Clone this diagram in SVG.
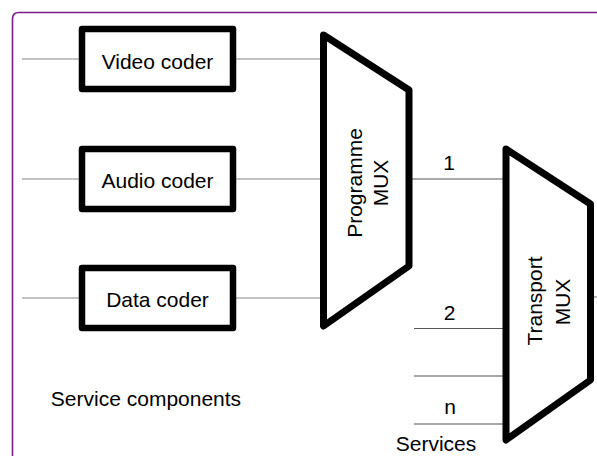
<svg xmlns="http://www.w3.org/2000/svg" width="597" height="456" viewBox="0 0 597 456">
<style>
text{font-family:"Liberation Sans",Arial,sans-serif;font-size:21px;fill:#000}
.box{fill:#fff;stroke:#000;stroke-width:6.5;stroke-linejoin:round}
.mux{fill:#fff;stroke:#000;stroke-width:7;stroke-linejoin:round}
.ln{stroke:#888;stroke-width:1.2;fill:none}
.ln2{stroke:#555;stroke-width:1.2;fill:none}
</style>
<rect width="597" height="456" fill="#fff"/>
<path d="M12.5,470 V19 Q12.5,12.5 19,12.5 H610" fill="none" stroke="#7a1d86" stroke-width="1.6"/>
<g id="connectors">
<line class="ln" x1="22" y1="59" x2="82" y2="59"/>
<line class="ln" x1="22" y1="179" x2="82" y2="179"/>
<line class="ln" x1="22" y1="298" x2="82" y2="298"/>
<line class="ln" x1="233" y1="59" x2="323" y2="59"/>
<line class="ln" x1="233" y1="179" x2="323" y2="179"/>
<line class="ln" x1="233" y1="298" x2="323" y2="298"/>
<line class="ln2" x1="409" y1="179" x2="506" y2="179"/>
<line class="ln2" x1="414" y1="328.5" x2="506" y2="328.5"/>
<line class="ln2" x1="414" y1="376" x2="506" y2="376"/>
<line class="ln2" x1="414" y1="424" x2="506" y2="424"/>
<line class="ln" x1="590" y1="297" x2="600" y2="297"/>
</g>
<g id="video-coder">
<rect class="box" x="82" y="29" width="151" height="60"/>
<text x="157.5" y="69" text-anchor="middle">Video coder</text>
</g>
<g id="audio-coder">
<rect class="box" x="82" y="149" width="151" height="60"/>
<text x="157.5" y="188" text-anchor="middle">Audio coder</text>
</g>
<g id="data-coder">
<rect class="box" x="82" y="268" width="151" height="60"/>
<text x="157.5" y="307" text-anchor="middle">Data coder</text>
</g>
<g id="programme-mux">
<polygon class="mux" points="323.5,35 409,90 409,266 323.5,326"/>
<text transform="translate(362,183) rotate(-90)" text-anchor="middle">Programme</text>
<text transform="translate(388,183) rotate(-90)" text-anchor="middle">MUX</text>
</g>
<g id="transport-mux">
<polygon class="mux" points="506,149 590.5,204 590.5,380 506,440"/>
<text transform="translate(542,301) rotate(-90)" text-anchor="middle">Transport</text>
<text transform="translate(570,302) rotate(-90)" text-anchor="middle">MUX</text>
</g>
<g id="labels">
<text x="449" y="170" text-anchor="middle">1</text>
<text x="449.5" y="320" text-anchor="middle">2</text>
<text x="450" y="414" text-anchor="middle">n</text>
<text x="146" y="406" text-anchor="middle">Service components</text>
<text x="436" y="451" text-anchor="middle">Services</text>
</g>
</svg>
